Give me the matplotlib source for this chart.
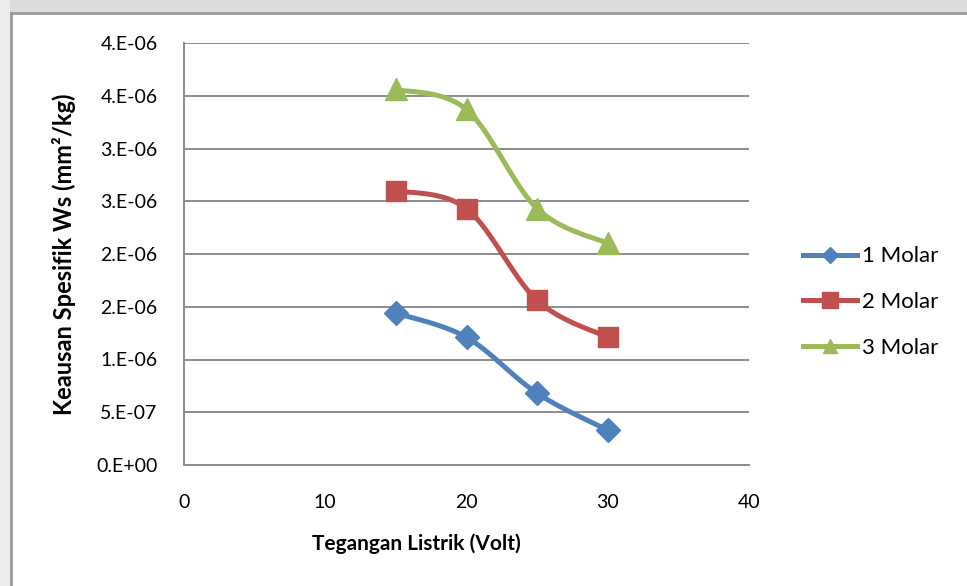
import numpy as np
import matplotlib
matplotlib.use("Agg")
import matplotlib.pyplot as plt
from matplotlib.patches import Rectangle
from matplotlib.lines import Line2D

plt.rcParams['font.family'] = ['Lato', 'DejaVu Sans']

# Voltage (V) and specific wear (mm^2/kg) per electrolyte concentration
voltage = [15, 20, 25, 30]
wear_1m = [1.44e-6, 1.21e-6, 0.68e-6, 0.33e-6]
wear_2m = [2.60e-6, 2.43e-6, 1.56e-6, 1.21e-6]
wear_3m = [3.56e-6, 3.37e-6, 2.43e-6, 2.10e-6]
series_names = ["1 Molar", "2 Molar", "3 Molar"]

x_ticks = [0, 10, 20, 30, 40]
y_ticks = [0, 0.5e-6, 1.0e-6, 1.5e-6, 2.0e-6, 2.5e-6, 3.0e-6, 3.5e-6, 4.0e-6]
y_tick_labels = ["0.E+00", "5.E-07", "1.E-06", "2.E-06", "2.E-06",
                 "3.E-06", "3.E-06", "4.E-06", "4.E-06"]

colors = ["#4F81BD", "#C0504D", "#9BBB59"]
markers = ["D", "s", "^"]
msizes = [12, 14, 16]
legend_msizes = [8, 11, 10]


def smooth(xs, ys, n=40):
    """Catmull-Rom style smoothing (like a spreadsheet's smoothed line)."""
    p = np.column_stack([xs, ys]).astype(float)
    p = np.vstack([p[0], p, p[-1]])
    out = []
    for i in range(1, len(p) - 2):
        p0, p1, p2, p3 = p[i - 1], p[i], p[i + 1], p[i + 2]
        c1 = p1 + (p2 - p0) / 6.0
        c2 = p2 - (p3 - p1) / 6.0
        t = np.linspace(0, 1, n)[:, None]
        seg = ((1 - t) ** 3) * p1 + 3 * ((1 - t) ** 2) * t * c1 \
            + 3 * (1 - t) * t ** 2 * c2 + t ** 3 * p2
        out.append(seg if i == 1 else seg[1:])
    out = np.vstack(out)
    return out[:, 0], out[:, 1]


W, H = 967, 586
fig = plt.figure(figsize=(W / 100, H / 100), dpi=100)

# grey frame strips around the chart area
fig.patches.append(Rectangle((0, 1 - 12 / H), 1, 12 / H, transform=fig.transFigure,
                             facecolor="#dcdcdc", edgecolor="none", zorder=0))
fig.patches.append(Rectangle((0, 0), 10 / W, 1, transform=fig.transFigure,
                             facecolor="#ececec", edgecolor="none", zorder=0))
fig.lines.append(Line2D([11 / W, 1], [1 - 13 / H, 1 - 13 / H], transform=fig.transFigure,
                        color="#9a9a9a", lw=2.0))
fig.lines.append(Line2D([11 / W, 11 / W], [0, 1 - 13 / H], transform=fig.transFigure,
                        color="#9a9a9a", lw=2.0))

ax = fig.add_axes([184 / W, 1 - 465 / H, (749 - 184) / W, (465 - 43) / H])

for ys, name, c, m, ms in zip([wear_1m, wear_2m, wear_3m], series_names, colors, markers, msizes):
    sx, sy = smooth(voltage, ys)
    ax.plot(sx, sy, color=c, lw=3.6, solid_capstyle="round", zorder=3)
    ax.plot(voltage, ys, linestyle="none", marker=m, ms=ms, color=c, zorder=4)

ax.set_xlim(0, 40)
ax.set_ylim(0, 4.0e-6)
ax.set_xticks(x_ticks)
ax.set_xticklabels([str(v) for v in x_ticks])
ax.set_yticks(y_ticks)
ax.set_yticklabels(y_tick_labels)
ax.tick_params(axis="both", length=0, labelsize=14, colors="#000000")
ax.tick_params(axis="x", pad=21)
ax.tick_params(axis="y", pad=19)

ax.grid(axis="y", color="#8c8c8c", lw=1.4)
ax.set_axisbelow(True)
for s in ["top", "right"]:
    ax.spines[s].set_visible(False)
for s in ["left", "bottom"]:
    ax.spines[s].set_color("#8c8c8c")
    ax.spines[s].set_linewidth(1.4)

ax.set_xlabel("Tegangan Listrik (Volt)", fontsize=15, fontweight="bold")
ax.xaxis.set_label_coords((416 - 184) / 565, (465 - 533) / 422)
ax.set_ylabel("Keausan Spesifik Ws (mm²/kg)", fontsize=17, fontweight="bold")
ax.yaxis.set_label_coords((76 - 184) / 565, 0.5)

handles = [Line2D([], [], color=c, lw=3.6, marker=m, ms=ms)
           for c, m, ms in zip(colors, markers, legend_msizes)]
fig.legend(handles, series_names, loc="center left", bbox_to_anchor=(803 / W, 1 - 302 / H),
           frameon=False, fontsize=16, handlelength=2.45, handletextpad=0.2,
           labelspacing=1.15, borderpad=0, borderaxespad=0)

fig.savefig("out.png", dpi=100)
